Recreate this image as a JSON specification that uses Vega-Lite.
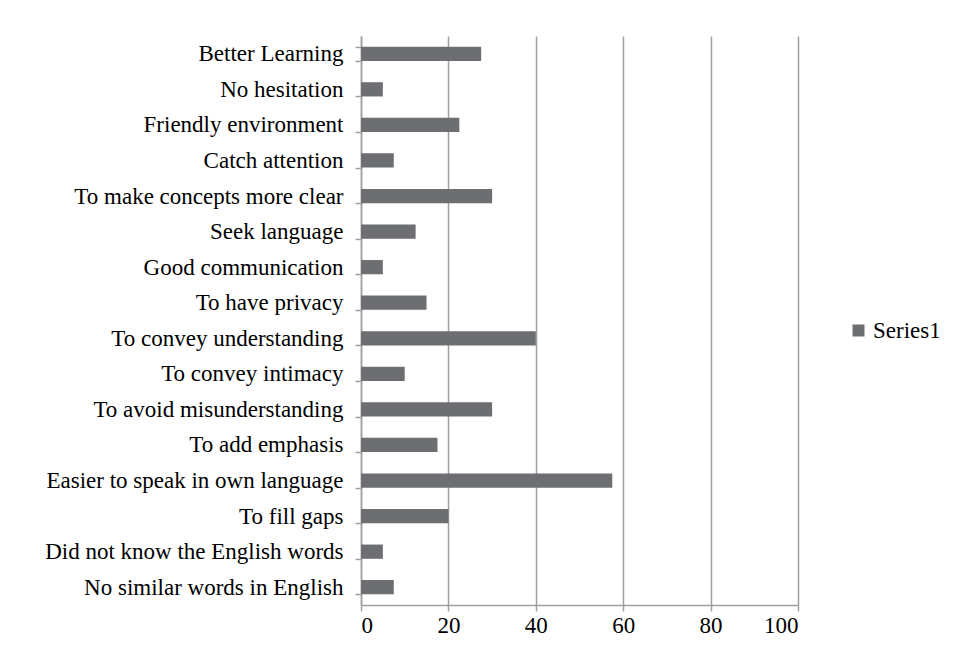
{
  "$schema": "https://vega.github.io/schema/vega-lite/v6.json",
  "autosize": {"type": "none"},
  "padding": {"left": 361, "top": 36, "right": 161, "bottom": 43},
  "width": 437,
  "height": 569,
  "background": "white",
  "config": {
    "view": {"stroke": null},
    "font": "Liberation Serif",
    "axis": {"labelFont": "Liberation Serif", "labelFontSize": 23, "labelColor": "#000000"},
    "legend": {"labelFont": "Liberation Serif", "labelFontSize": 23, "labelColor": "#000000"}
  },
  "data": {
    "values": [
      {"reason": "Better Learning", "value": 27.5, "series": "Series1"},
      {"reason": "No hesitation", "value": 5, "series": "Series1"},
      {"reason": "Friendly environment", "value": 22.5, "series": "Series1"},
      {"reason": "Catch attention", "value": 7.5, "series": "Series1"},
      {"reason": "To make concepts more clear", "value": 30, "series": "Series1"},
      {"reason": "Seek language", "value": 12.5, "series": "Series1"},
      {"reason": "Good communication", "value": 5, "series": "Series1"},
      {"reason": "To have privacy", "value": 15, "series": "Series1"},
      {"reason": "To convey understanding", "value": 40, "series": "Series1"},
      {"reason": "To convey intimacy", "value": 10, "series": "Series1"},
      {"reason": "To avoid misunderstanding", "value": 30, "series": "Series1"},
      {"reason": "To add emphasis", "value": 17.5, "series": "Series1"},
      {"reason": "Easier to speak in own language", "value": 57.5, "series": "Series1"},
      {"reason": "To fill gaps", "value": 20, "series": "Series1"},
      {"reason": "Did not know the English words", "value": 5, "series": "Series1"},
      {"reason": "No similar words in English", "value": 7.5, "series": "Series1"}
    ]
  },
  "mark": {"type": "bar"},
  "encoding": {
    "y": {
      "field": "reason",
      "type": "nominal",
      "sort": null,
      "scale": {"paddingInner": 0.6, "paddingOuter": 0.3},
      "axis": {
        "title": null,
        "tickBand": "extent",
        "tickSize": 6,
        "tickColor": "#a0a0a0",
        "tickWidth": 1.5,
        "domainColor": "#a0a0a0",
        "domainWidth": 1.5,
        "labelPadding": 12,
        "labelLimit": 400,
        "grid": false
      }
    },
    "x": {
      "field": "value",
      "type": "quantitative",
      "scale": {"domain": [0, 100]},
      "axis": {
        "title": null,
        "values": [0, 20, 40, 60, 80, 100],
        "grid": true,
        "gridColor": "#a0a0a0",
        "gridWidth": 1.5,
        "tickSize": 6,
        "tickColor": "#a0a0a0",
        "tickWidth": 1.5,
        "domainColor": "#a0a0a0",
        "domainWidth": 1.5,
        "labelPadding": 3
      }
    },
    "color": {
      "field": "series",
      "type": "nominal",
      "scale": {"range": ["#6d6e71"]},
      "legend": {
        "title": null,
        "orient": "none",
        "legendX": 486,
        "legendY": 283,
        "symbolType": "square",
        "symbolSize": 144,
        "symbolStrokeWidth": 0,
        "labelOffset": 3
      }
    }
  }
}
